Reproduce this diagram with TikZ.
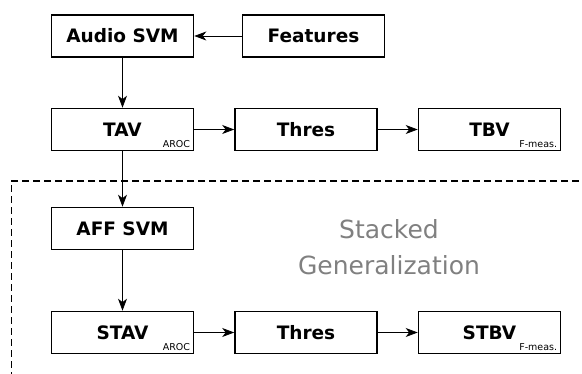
\documentclass[tikz,border=0pt]{standalone}
\usepackage{fontspec}
\setmainfont{DejaVu Sans}
\usetikzlibrary{arrows.meta}
\begin{document}
\begin{tikzpicture}[x=1pt,y=-1pt,
  block/.style={draw=black, line width=1.6pt, minimum width=142pt, minimum height=42pt,
    inner sep=0pt, font=\fontsize{18.5}{22}\selectfont\bfseries},
  flow/.style={-{Stealth[length=12pt,width=9pt,inset=3.5pt]}, line width=0.8pt},
  metric/.style={font=\fontsize{9.5}{11}\selectfont, anchor=south east,
    inner xsep=4pt, inner ysep=3pt}]
  \useasboundingbox (0,0) rectangle (582,374);

  % stacked generalization region
  \draw[line width=1.4pt, dash pattern=on 7pt off 4pt] (590,181) -- (11.5,181) -- (11.5,380);
  \node[text=black!50, font=\fontsize{25}{36}\selectfont, align=center] (sg) at (389,247)
    {Stacked\\Generalization};

  % first stage
  \node[block] (audio) at (122.5,36) {Audio SVM};
  \node[block] (feat) at (313.5,36) {Features};
  \node[block] (tav) at (122.5,129.5) {TAV};
  \node[block] (thres1) at (306,129.5) {Thres};
  \node[block] (tbv) at (489.5,129.5) {TBV};
  \node[metric] (tavm) at (tav.south east) {AROC};
  \node[metric] (tbvm) at (tbv.south east) {F-meas.};

  % second stage
  \node[block] (aff) at (122.5,228.5) {AFF SVM};
  \node[block] (stav) at (122.5,332.5) {STAV};
  \node[block] (thres2) at (306,332.5) {Thres};
  \node[block] (stbv) at (489.5,332.5) {STBV};
  \node[metric] (stavm) at (stav.south east) {AROC};
  \node[metric] (stbvm) at (stbv.south east) {F-meas.};

  % connectors
  \draw[flow] (feat) -- (audio);
  \draw[flow] (audio) -- (tav);
  \draw[flow] (tav) -- (thres1);
  \draw[flow] (thres1) -- (tbv);
  \draw[flow] (tav) -- (aff);
  \draw[flow] (aff) -- (stav);
  \draw[flow] (stav) -- (thres2);
  \draw[flow] (thres2) -- (stbv);
\end{tikzpicture}
\end{document}
